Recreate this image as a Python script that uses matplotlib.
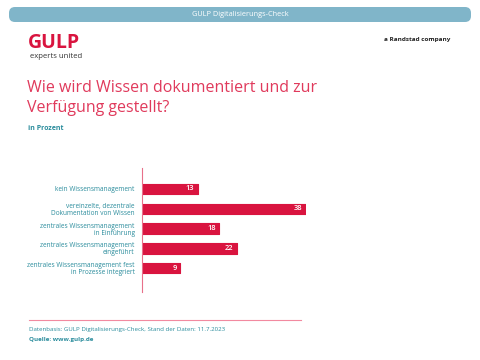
import matplotlib.pyplot as plt
from matplotlib.patches import FancyBboxPatch

categories = [
    "kein Wissensmanagement",
    "vereinzelte, dezentrale\nDokumentation von Wissen",
    "zentrales Wissensmanagement\nin Einführung",
    "zentrales Wissensmanagement\neingeführt",
    "zentrales Wissensmanagement fest\nin Prozesse integriert",
]
values = [13, 38, 18, 22, 9]

red = "#d9143f"
title_red = "#e03a5c"
teal = "#2a8c9c"
header_blue = "#80b5c9"

plt.rcParams["font.family"] = ["Open Sans", "DejaVu Sans"]

fig = plt.figure(figsize=(4.8, 3.6), dpi=100)

# background layer in pixel coordinates
bg = fig.add_axes([0, 0, 1, 1])
bg.set_xlim(0, 480)
bg.set_ylim(360, 0)
bg.axis("off")

bg.add_patch(FancyBboxPatch((9, 7), 462, 15, boxstyle="round,pad=0,rounding_size=6",
                            facecolor=header_blue, edgecolor="none"))
bg.text(240, 14.5, "GULP Digitalisierungs-Check", color="white", fontsize=5.3,
        ha="center", va="center")

bg.text(28, 43, "GULP", color=red, fontsize=14, fontweight="bold", ha="left", va="center")
bg.text(30, 56, "experts united", color="#333333", fontsize=5.6, ha="left", va="center")
bg.text(450, 40, "a Randstad company", color="#222222", fontsize=4.6, fontweight="bold",
        ha="right", va="center")

bg.text(27, 88, "Wie wird Wissen dokumentiert und zur", color=title_red, fontsize=11.5,
        ha="left", va="center")
bg.text(27, 108, "Verfügung gestellt?", color=title_red, fontsize=11.5,
        ha="left", va="center")
bg.text(28, 128, "in Prozent", color=teal, fontsize=5, fontweight="bold",
        ha="left", va="center")

bg.plot([29, 301], [320, 320], color="#f28aa0", lw=0.8)
bg.text(29, 330, "Datenbasis: GULP Digitalisierungs-Check, Stand der Daten: 11.7.2023",
        color=teal, fontsize=4.4, ha="left", va="center")
bg.text(29, 340, "Quelle: www.gulp.de", color=teal, fontsize=4.5, fontweight="bold",
        ha="left", va="center")

# bar chart
ax = fig.add_axes([141.5 / 480, 1 - 292 / 360, (306 - 141.5) / 480, (292 - 168) / 360])
ax.patch.set_alpha(0)
pos = list(range(len(values)))
ax.barh(pos, values, height=0.52, color=red, edgecolor=red, linewidth=0.8,
        joinstyle="round")
ax.set_xlim(0, 38)
ax.set_ylim(5.2, -1.06)
for p, v in zip(pos, values):
    ax.text(v - 0.8, p, str(v), color="white", fontsize=5.4, fontweight="semibold",
            ha="right", va="center")

ax.set_yticks(pos)
ax.set_yticklabels(categories, fontsize=4.7, color=teal, ha="right",
                   linespacing=1.0, fontweight="medium")
ax.tick_params(axis="y", length=0, pad=5)
ax.set_xticks([])
for s in ["top", "right", "bottom"]:
    ax.spines[s].set_visible(False)
ax.spines["left"].set_color("#e8708a")
ax.spines["left"].set_linewidth(0.8)

fig.savefig("out.png", dpi=100)
